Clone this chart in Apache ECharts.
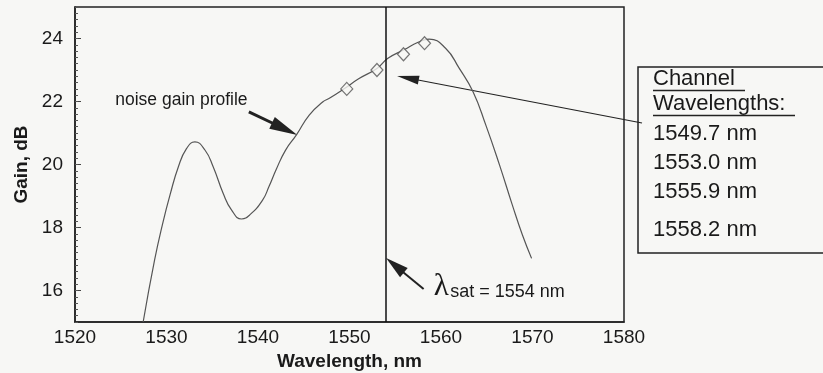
<!DOCTYPE html>
<html>
<head>
<meta charset="utf-8">
<script src="https://cdn.jsdelivr.net/npm/echarts@6/dist/echarts.min.js"></script>
<style>
  html, body { margin: 0; padding: 0; background: #f7f7f5; }
  #chart { width: 823px; height: 373px; }
</style>
</head>
<body>
<div id="chart"></div>
<script>
// Noise gain profile of the amplifier: wavelength (nm) vs gain (dB)
const profileWavelength = [
  1527.45, 1528.7, 1529.6, 1530.4, 1531.3, 1532.2, 1533.1, 1534.2, 1535.1,
  1536.2, 1537.1, 1538.2, 1539.1, 1540.5, 1541.2, 1542.0, 1543.0, 1544.2,
  1545.6, 1547.1, 1547.8, 1549.5, 1551.0, 1553.0, 1554.2, 1556.0, 1557.5,
  1558.7, 1560.5, 1562.0, 1563.5, 1564.9, 1566.4, 1567.8, 1568.9, 1569.9
];
const profileGain = [
  15.0, 16.97, 18.15, 19.05, 19.93, 20.51, 20.72, 20.46, 19.93,
  19.08, 18.56, 18.27, 18.4, 18.87, 19.3, 19.85, 20.45, 20.94,
  21.57, 21.99, 22.1, 22.42, 22.72, 23.05, 23.37, 23.65, 23.88,
  23.98, 23.69, 23.05, 22.31, 21.25, 19.98, 18.71, 17.76, 17.02
];

// Signal channels
const channelWavelength = [1549.7, 1553.0, 1555.9, 1558.2];
const channelGain = [22.4, 23.0, 23.5, 23.85];

// Saturation wavelength
const satWavelength = 1554;

// Axis ticks
const xTicks = [1520, 1530, 1540, 1550, 1560, 1570, 1580];
const yTicks = [16, 18, 20, 22, 24];
const yMin = 15, yMax = 25;
const yMinorTicks = [];
for (let v = 150; v <= 250; v += 2) yMinorTicks.push(v / 10);

const FONT = '"Liberation Sans", Arial, sans-serif';
const INK = '#1a1a1a';
const BG = '#f7f7f5';

const chart = echarts.init(document.getElementById('chart'), null, { renderer: 'canvas' });

chart.setOption({
  backgroundColor: BG,
  animation: false,
  grid: {
    left: 75, top: 7, width: 549, height: 315,
    outerBoundsMode: 'none', containLabel: false,
    show: true, borderColor: '#222', borderWidth: 1.5, backgroundColor: 'transparent'
  },
  xAxis: {
    type: 'value', min: xTicks[0], max: xTicks[xTicks.length - 1], interval: 10,
    name: 'Wavelength, nm', nameLocation: 'middle', nameGap: 30,
    nameTextStyle: { fontFamily: FONT, fontSize: 19, fontWeight: 'bold', color: INK },
    axisLine: { show: true, lineStyle: { color: '#222', width: 1.5 } },
    axisTick: { show: false },
    axisLabel: { fontFamily: FONT, fontSize: 19, color: INK, margin: 6,
      customValues: xTicks, formatter: v => String(v) },
    splitLine: { show: false }
  },
  yAxis: [{
    type: 'value', min: yMin, max: yMax,
    name: 'Gain, dB', nameLocation: 'middle', nameGap: 41, nameRotate: 90,
    nameTextStyle: { fontFamily: FONT, fontSize: 19, fontWeight: 'bold', color: INK },
    axisLine: { show: true, lineStyle: { color: '#222', width: 1.5 } },
    axisTick: { show: true, inside: true, length: 6, customValues: yTicks,
      lineStyle: { color: '#444', width: 1 } },
    axisLabel: { fontFamily: FONT, fontSize: 19, color: INK, margin: 12,
      customValues: yTicks, formatter: v => String(v) },
    splitLine: { show: false }
  }, {
    type: 'value', min: yMin, max: yMax, position: 'left',
    axisLine: { show: false },
    axisTick: { show: true, inside: true, length: 3, customValues: yMinorTicks,
      lineStyle: { color: '#555', width: 1 } },
    axisLabel: { show: false },
    splitLine: { show: false }
  }],
  series: [{
    type: 'line',
    data: profileWavelength.map((w, i) => [w, profileGain[i]]),
    smooth: 0.5,
    showSymbol: false,
    lineStyle: { color: '#555', width: 1.2 },
    markLine: {
      silent: true, symbol: 'none', label: { show: false },
      lineStyle: { color: '#111', width: 1.5, type: 'solid' },
      data: [{ xAxis: satWavelength }]
    },
    z: 2
  }, {
    type: 'scatter',
    data: channelWavelength.map((w, i) => [w, channelGain[i]]),
    symbol: 'diamond', symbolSize: [12, 13],
    itemStyle: { color: BG, borderColor: '#555', borderWidth: 1.2 },
    z: 3
  }]
});

// Annotation overlay: arrows and text placed through the axes
function px(x, y) { return chart.convertToPixel({ gridIndex: 0 }, [x, y]); }

// text placed by its baseline (Liberation Sans: em-box middle sits ~0.347em above baseline)
function textAt(str, x, baseline, size, family, weight) {
  return {
    type: 'text', silent: true, x: x, y: baseline - 0.347 * size,
    style: { text: str, font: (weight || 'normal') + ' ' + size + 'px ' + family, fill: INK,
      textAlign: 'left', textVerticalAlign: 'middle' }
  };
}

function arrow(p0, p1, headLen, headW, shaftW) {
  const dx = p1[0] - p0[0], dy = p1[1] - p0[1];
  const len = Math.hypot(dx, dy);
  const ux = dx / len, uy = dy / len;
  const bx = p1[0] - ux * headLen, by = p1[1] - uy * headLen;
  const nx = -uy * headW / 2, ny = ux * headW / 2;
  return [{
    type: 'line', silent: true,
    shape: { x1: p0[0], y1: p0[1], x2: bx + ux * 2, y2: by + uy * 2 },
    style: { stroke: '#222', lineWidth: shaftW }
  }, {
    type: 'polygon', silent: true,
    shape: { points: [[p1[0], p1[1]], [bx + nx, by + ny], [bx - nx, by - ny]] },
    style: { fill: '#222' }
  }];
}

const g = [];
// noise gain profile label and arrow
const noiseLabel = px(1524.4, 21.85);
g.push(textAt('noise gain profile', noiseLabel[0], noiseLabel[1], 17.5, FONT));
g.push(...arrow(px(1539.0, 21.67), px(1544.3, 20.94), 28, 13, 3));

// saturation wavelength label and arrow
g.push(...arrow(px(1558.1, 16.05), px(satWavelength, 17.03), 23, 12, 2));
const lam = px(1559.2, 15.76);
g.push(textAt('λ', lam[0], lam[1], 31, '"Liberation Serif", "Times New Roman", serif'));
g.push(textAt('sat = ' + satWavelength + ' nm', lam[0] + 16.5, lam[1], 18, FONT));

// channel wavelength box
const box = { x: 638, y: 67, w: 200, h: 186 };
g.push({ type: 'rect', silent: true,
  shape: { x: box.x, y: box.y, width: box.w, height: box.h },
  style: { fill: BG, stroke: '#222', lineWidth: 1.5 } });
const tx = box.x + 15;
const headLines = [['Channel', 87, 92], ['Wavelengths:', 112, 142]];
headLines.forEach(([t, base, ulen]) => {
  g.push(textAt(t, tx, base, 22, FONT));
  g.push({ type: 'line', silent: true,
    shape: { x1: tx, y1: base + 3.5, x2: tx + ulen, y2: base + 3.5 },
    style: { stroke: '#222', lineWidth: 1.5 } });
});
const channelBaselines = [142, 171, 200, 238];
channelWavelength.forEach((w, i) => {
  g.push(textAt(w.toFixed(1) + ' nm', tx, channelBaselines[i], 22, FONT));
});
// arrow from the box to the channel markers
g.push(...arrow([box.x + 4, 123], px(1555.2, 22.81), 22, 9, 1.2));

chart.setOption({ graphic: { elements: g } });
</script>
</body>
</html>
